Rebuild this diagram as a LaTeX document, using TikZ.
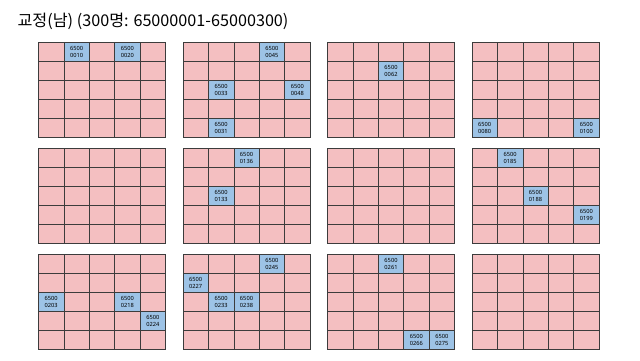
\documentclass[tikz,border=0pt]{standalone}
\usepackage{fontspec}
\setmainfont{Noto Sans}
\newfontfamily\krfont{Noto Sans CJK KR}
\usepackage{tikz}
\usetikzlibrary{positioning}
\definecolor{SeatPink}{HTML}{F4BFC1}
\definecolor{SeatBlue}{HTML}{9DC3E6}
\definecolor{GridLine}{HTML}{3C3C3C}

\begin{document}
\begin{tikzpicture}[
  x=1pt,y=-1pt,
  cell/.style={draw=GridLine,line width=0.6pt,fill=SeatPink,minimum width=25.4pt,minimum height=19pt,inner sep=0pt},
  seat/.style={cell,fill=SeatBlue,font=\fontsize{5.7}{6.4}\selectfont,align=center},
  heading/.style={anchor=base west,font=\krfont\fontsize{16.2}{18}\selectfont}
]
\useasboundingbox (0,0) rectangle (640,360);
\node[heading] (title) at (14,26) {교정(남) (300명: 65000001-65000300)};
% 12 blocks of 5x5 seats
\foreach \gx in {0,...,3}
  \foreach \gy in {0,...,2}
    \foreach \r in {0,...,4}
      \foreach \c in {0,...,4}
        \node[cell] (s-\gx-\gy-\r-\c) at ({38.5+144.5*\gx+25.4*\c+12.7},{42.5+106*\gy+19*\r+9.5}) {};
% marked seats
\foreach \gx/\gy/\r/\c/\num in {
  0/0/0/1/0010, 0/0/0/3/0020,
  1/0/0/3/0045, 1/0/2/1/0033, 1/0/2/4/0048, 1/0/4/1/0031,
  2/0/1/2/0062,
  3/0/4/0/0080, 3/0/4/4/0100,
  1/1/0/2/0136, 1/1/2/1/0133,
  3/1/0/1/0185, 3/1/2/2/0188, 3/1/3/4/0199,
  0/2/2/0/0203, 0/2/2/3/0218, 0/2/3/4/0224,
  1/2/0/3/0245, 1/2/1/0/0227, 1/2/2/1/0233, 1/2/2/2/0238,
  2/2/0/2/0261, 2/2/4/3/0266, 2/2/4/4/0275}
  \node[seat] (m-\num) at (s-\gx-\gy-\r-\c) {6500\\\num};
\end{tikzpicture}
\end{document}
